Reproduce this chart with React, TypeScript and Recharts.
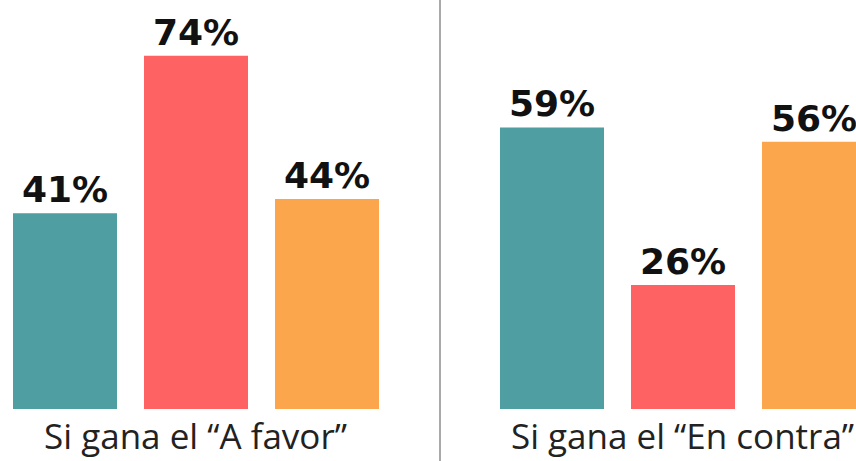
import React from 'react';
import { BarChart, Bar, XAxis, YAxis, LabelList } from 'recharts';

const scenarios = ['Si gana el \u201CA favor\u201D', 'Si gana el \u201CEn contra\u201D'];
const teal = [41, 59];
const red = [74, 26];
const orange = [44, 56];

const data = scenarios.map((name, i) => ({ name, teal: teal[i], red: red[i], orange: orange[i] }));

const labelStyle = {
  fontFamily: '"DejaVu Sans", sans-serif',
  fontWeight: 700,
  fontSize: 36,
  fill: '#111',
};

export default function App() {
  return (
    <div style={{ position: 'fixed', top: 0, left: 0, width: 856, height: 461, overflow: 'hidden', background: '#fff' }}>
      <div style={{ position: 'absolute', left: -48, top: 0 }}>
        <BarChart
          width={974}
          height={461}
          data={data}
          margin={{ top: 0, right: 0, left: 0, bottom: 0 }}
          barCategoryGap={61}
          barGap={27}
        >
          <XAxis
            dataKey="name"
            axisLine={false}
            tickLine={false}
            height={52}
            interval={0}
            tick={{ fontSize: 35, fill: '#222', fontFamily: '"Open Sans", sans-serif', fontWeight: 400 }}
            tickMargin={9}
          />
          <YAxis hide domain={[0, 85.7]} />
          <Bar dataKey="teal" fill="#4E9EA2" barSize={104} isAnimationActive={false}>
            <LabelList dataKey="teal" position="top" offset={11} formatter={(v: any) => `${v}%`} style={labelStyle} />
          </Bar>
          <Bar dataKey="red" fill="#FF6262" barSize={104} isAnimationActive={false}>
            <LabelList dataKey="red" position="top" offset={11} formatter={(v: any) => `${v}%`} style={labelStyle} />
          </Bar>
          <Bar dataKey="orange" fill="#FBA64C" barSize={104} isAnimationActive={false}>
            <LabelList dataKey="orange" position="top" offset={11} formatter={(v: any) => `${v}%`} style={labelStyle} />
          </Bar>
        </BarChart>
      </div>
      <div style={{ position: 'absolute', left: 439, top: 0, width: 2, height: 461, background: '#A9A9A9' }} />
    </div>
  );
}
